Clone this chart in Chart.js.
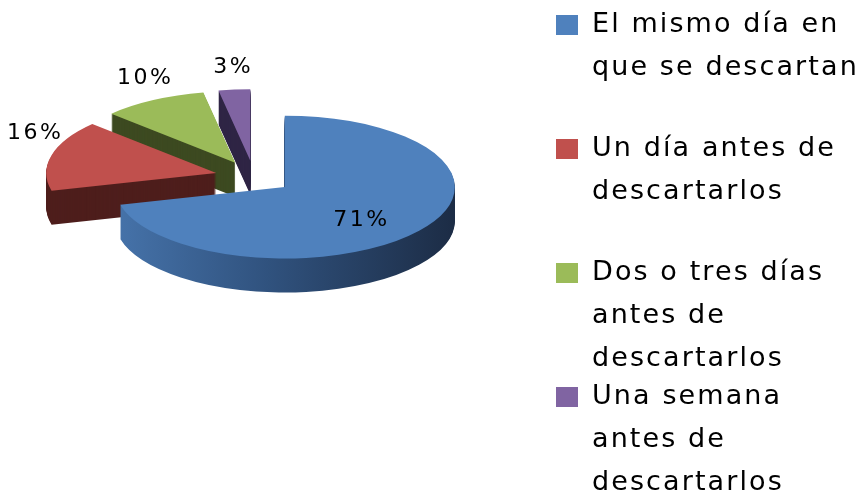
<!DOCTYPE html>
<html>
<head>
<meta charset="utf-8">
<script src="https://cdn.jsdelivr.net/npm/chart.js@4/dist/chart.umd.min.js"></script>
<style>
  html, body { margin: 0; padding: 0; background: #fff; }
  #wrap { position: relative; width: 865px; height: 494px; overflow: hidden; }
  #chart { position: absolute; left: 0; top: 0; }
  .item { position: absolute; left: 556px; font-family: "DejaVu Sans", sans-serif; font-size: 27px; line-height: 43px; letter-spacing: 2.1px; color: #000; white-space: nowrap; }
  .item .box { position: absolute; left: 0; top: 14px; width: 22px; height: 20px; }
  .item .txt { margin-left: 36px; }
</style>
</head>
<body>
<div id="wrap">
  <canvas id="chart" width="865" height="494"></canvas>
  <div id="legend"></div>
</div>
<script>
// categorías (líneas de la leyenda)
const categories = [
    ["El mismo día en", "que se descartan"],
    ["Un día antes de", "descartarlos"],
    ["Dos o tres días", "antes de", "descartarlos"],
    ["Una semana", "antes de", "descartarlos"],
];
// porcentajes
const values = [71, 16, 10, 3];
const topColors = ["#4f81bd", "#c0504d", "#9bbb59", "#8064a2"];
const sideColors = ["#30527e", "#4e1e1c", "#3d4a21", "#2f2545"];

// aspecto 3D
const RADIUS = 170;
const TILT = 0.42;
const DEPTH = 34;
const EXPLODE = 39;

function place(ctx, arc, dy) {
    const mid = (arc.startAngle + arc.endAngle) / 2;
    ctx.translate(arc.x, arc.y + dy);
    ctx.scale(1, TILT);
    ctx.translate(Math.cos(mid) * EXPLODE, Math.sin(mid) * EXPLODE);
    ctx.translate(-arc.x, -arc.y);
}

function drawGhost(ctx, arc, color) {
    const g = Object.create(arc);
    g.options = Object.assign({}, arc.options, { backgroundColor: color, borderWidth: 0, offset: 0 });
    g.draw(ctx);
}

const pie3d = {
    id: "pie3d",
    beforeDatasetsDraw(chart) {
        const ctx = chart.ctx;
        const arcs = chart.getDatasetMeta(0).data;
        const x0 = arcs[0].x;

        // lado del sector azul con degradado
        const grad = ctx.createLinearGradient(x0 - RADIUS, 0, x0 + RADIUS, 0);
        grad.addColorStop(0, "#4673aa");
        grad.addColorStop(0.45, "#30527e");
        grad.addColorStop(1, "#1c2c45");

        // paredes
        for (let d = DEPTH; d >= 1; d--) {
            arcs.forEach((arc, i) => {
                ctx.save();
                place(ctx, arc, d);
                drawGhost(ctx, arc, i === 0 ? grad : sideColors[i]);
                ctx.restore();
            });
        }
        // caras superiores
        arcs.forEach((arc, i) => {
            ctx.save();
            place(ctx, arc, 0);
            drawGhost(ctx, arc, topColors[i]);
            ctx.restore();
        });

        // etiquetas de porcentaje
        const total = values.reduce((a, b) => a + b, 0);
        ctx.save();
        ctx.font = '22px "DejaVu Sans"';
        ctx.letterSpacing = "2.5px";
        ctx.fillStyle = "#000";
        ctx.textAlign = "center";
        ctx.textBaseline = "middle";
        arcs.forEach((arc, i) => {
            const mid = (arc.startAngle + arc.endAngle) / 2;
            const cos = Math.cos(mid), sin = Math.sin(mid);
            const cx = arc.x + cos * EXPLODE;
            const cy = arc.y + sin * EXPLODE * TILT;
            const text = values[i] + "%";
            let x, y;
            if (values[i] / total > 0.5) {
                x = cx + cos * RADIUS * 0.57;
                y = cy + sin * RADIUS * 0.57 * TILT + 8;
            } else {
                const w = ctx.measureText(text).width;
                x = cx + cos * RADIUS + cos * w * 0.3;
                y = cy + sin * RADIUS * TILT - 22;
            }
            ctx.fillText(text, x, y);
        });
        ctx.restore();
        return false;
    },
};

new Chart(document.getElementById("chart"), {
    type: "pie",
    data: {
        labels: categories,
        datasets: [{
            data: values,
            backgroundColor: topColors,
            borderWidth: 0,
            radius: RADIUS,
        }],
    },
    options: {
        responsive: false,
        animation: false,
        layout: { padding: { left: 0, top: 0, right: 357, bottom: 140 } },
        plugins: {
            legend: { display: false },
            tooltip: { enabled: false },
        },
    },
    plugins: [pie3d],
});

// leyenda
const legend = document.getElementById("legend");
categories.forEach((lines, i) => {
    const item = document.createElement("div");
    item.className = "item";
    item.style.top = (1 + i * 124) + "px";
    item.innerHTML = `<div class="box" style="background:${topColors[i]}"></div>` +
        `<div class="txt">${lines.join("<br>")}</div>`;
    legend.appendChild(item);
});
</script>
</body>
</html>
